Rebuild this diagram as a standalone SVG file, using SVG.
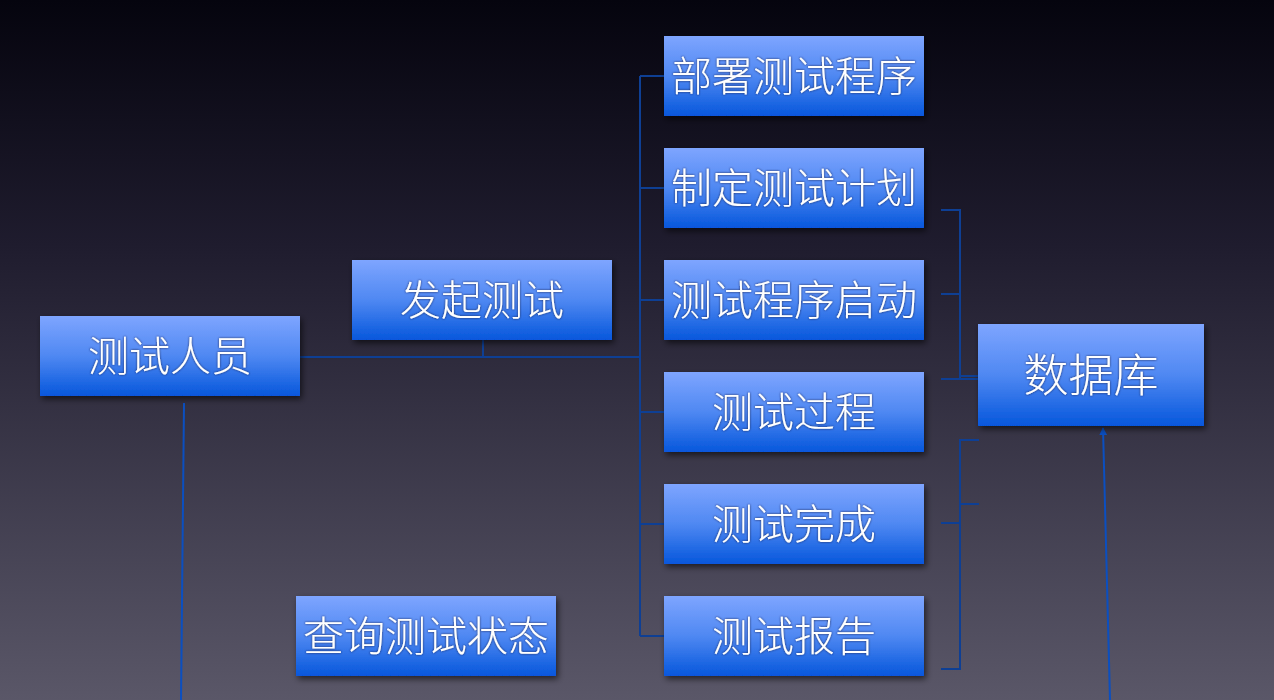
<svg xmlns="http://www.w3.org/2000/svg" width="1274" height="700" viewBox="0 0 1274 700">
<defs>
<linearGradient id="bg" x1="0" y1="0" x2="0" y2="1">
<stop offset="0" stop-color="#05040e"/>
<stop offset="0.35" stop-color="#1f1c2e"/>
<stop offset="1" stop-color="#5a5768"/>
</linearGradient>
<linearGradient id="box" x1="0" y1="0" x2="0" y2="1">
<stop offset="0" stop-color="#7ea5ff"/>
<stop offset="0.5" stop-color="#4f88f2"/>
<stop offset="1" stop-color="#0657dc"/>
</linearGradient>
<filter id="sh" x="-10%" y="-20%" width="125%" height="150%">
<feDropShadow dx="2" dy="3" stdDeviation="3" flood-color="#000" flood-opacity="0.6"/>
</filter>
<filter id="ts" x="-5%" y="-20%" width="110%" height="140%">
<feDropShadow dx="0" dy="0" stdDeviation="0.8" flood-color="#1a1a40" flood-opacity="0.9"/>
</filter>
<marker id="arr" viewBox="0 0 10 10" refX="9" refY="5" markerWidth="4" markerHeight="4" orient="auto">
<path d="M0,0 L10,5 L0,10 z" fill="#0b4fc0"/>
</marker>
</defs>
<style>
.b{fill:url(#box);filter:url(#sh)}
.t{fill:#fff;font-family:"Noto Sans CJK SC","Noto Sans CJK JP",sans-serif;font-weight:300;font-size:41px;text-anchor:middle;dominant-baseline:central;filter:url(#ts)}
.c{fill:none;stroke:#0e3f94;stroke-width:2}
.c2{fill:none;stroke:#0b4fc0;stroke-width:2}
</style>
<rect width="1274" height="700" fill="url(#bg)"/>
<g id="connectors">
<path class="c" d="M300,357 H640 M483,340 V357 M640,76 V636 M640,76 H664 M640,188 H664 M640,300 H664 M640,412 H664 M640,524 H664 M640,636 H664"/>
<path class="c" d="M941,210 H960 V378 M941,294 H960 M941,379 H978 M960,376 H978"/>
<path class="c" d="M979,440 H960 V669 H941 M960,504 H979 M941,523 H960"/>
<path class="c2" d="M184,403 L181,700"/>
<path class="c2" d="M1110,700 L1103,428" marker-end="url(#arr)"/>
</g>
<g id="n1"><rect class="b" x="40" y="316" width="260" height="80"/><text class="t" x="170" y="353">测试人员</text></g>
<g id="n2"><rect class="b" x="352" y="260" width="260" height="80"/><text class="t" x="482" y="297">发起测试</text></g>
<g id="n3"><rect class="b" x="664" y="36" width="260" height="80"/><text class="t" x="794" y="73">部署测试程序</text></g>
<g id="n4"><rect class="b" x="664" y="148" width="260" height="80"/><text class="t" x="794" y="185">制定测试计划</text></g>
<g id="n5"><rect class="b" x="664" y="260" width="260" height="80"/><text class="t" x="794" y="297">测试程序启动</text></g>
<g id="n6"><rect class="b" x="664" y="372" width="260" height="80"/><text class="t" x="794" y="409">测试过程</text></g>
<g id="n7"><rect class="b" x="664" y="484" width="260" height="80"/><text class="t" x="794" y="521">测试完成</text></g>
<g id="n8"><rect class="b" x="664" y="596" width="260" height="80"/><text class="t" x="794" y="633">测试报告</text></g>
<g id="n9"><rect class="b" x="296" y="596" width="260" height="80"/><text class="t" x="426" y="633">查询测试状态</text></g>
<g id="n10"><rect class="b" x="978" y="324" width="226" height="102"/><text class="t" x="1091" y="372" style="font-size:45px">数据库</text></g>
</svg>
